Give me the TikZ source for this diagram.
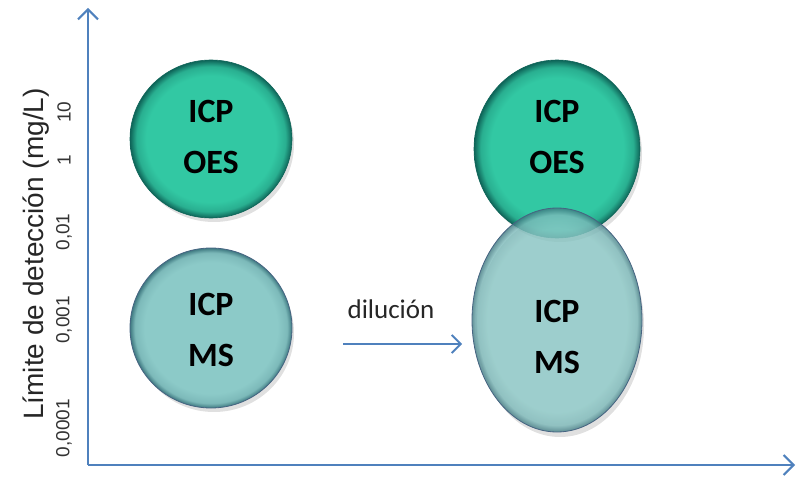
\documentclass[tikz,border=0pt]{standalone}
\usepackage{fontspec}
\setmainfont{Liberation Sans}
\newfontfamily\calib{Carlito}
\usetikzlibrary{arrows.meta,shapes.geometric}
\definecolor{axisblue}{RGB}{79,129,189}
\definecolor{oesmain}{RGB}{50,200,163}
\definecolor{oesdark}{RGB}{14,100,88}
\definecolor{msmain}{RGB}{140,202,200}
\definecolor{msdark}{RGB}{62,120,128}
\definecolor{msline}{RGB}{70,100,130}
\pgfdeclareradialshading{oesshade}{\pgfpoint{0bp}{0bp}}{%
  color(0bp)=(oesmain); color(20bp)=(oesmain); color(23bp)=(oesmain!75!oesdark); color(25bp)=(oesdark); color(50bp)=(oesdark)}
\pgfdeclareradialshading{msshade}{\pgfpoint{0bp}{0bp}}{%
  color(0bp)=(msmain); color(20.5bp)=(msmain); color(23.5bp)=(msmain!80!msdark); color(25bp)=(msdark); color(50bp)=(msdark)}
\tikzset{
  axisline/.style={draw=axisblue, line width=2pt, -{Straight Barb[length=10pt,width=20pt,line width=2pt]}},
  balltext/.style={font=\calib\bfseries\fontsize{34}{51}\selectfont, align=center, text=black},
  tick/.style={font=\fontsize{19}{19}\selectfont, rotate=90, text=black!80},
  shadowball/.style={fill=black, fill opacity=0.12},
}
\begin{document}
\begin{tikzpicture}[x=1pt,y=-1pt]
\useasboundingbox (0,0) rectangle (797,481);
% axes
\coordinate (origin) at (88,465);
\coordinate (ytop) at (88,8);
\coordinate (xend) at (795,465);
\draw[axisline] (origin) -- (ytop);
\draw[axisline] (origin) -- (xend);
% tick labels
\node[tick] (t10) at (64,112) {10};
\node[tick] (t1) at (64,160) {1};
\node[tick] (t001) at (64,232) {0,01};
\node[tick] (t0001) at (64,320) {0,001};
\node[tick] (t00001) at (64,428) {0,0001};
\node[font=\fontsize{28}{28}\selectfont, rotate=90, text=black!85] (ytitle) at (36,254) {Límite de detección (mg/L)};
% shadows
\path[shadowball] (214,144) ellipse [x radius=80, y radius=78];
\path[shadowball] (214,333) ellipse [x radius=80, y radius=79];
\path[shadowball] (560,154) ellipse [x radius=82, y radius=88];
\path[shadowball] (560,326) ellipse [x radius=84, y radius=111];
% left balls
\path[shading=oesshade] (211,139) ellipse [x radius=81, y radius=79];
\draw[oesdark, line width=0.6pt] (211,139) ellipse [x radius=81, y radius=79];
\node[balltext] (lo) at (211,137) {ICP\\OES};
\path[shading=msshade] (211,328) ellipse [x radius=81, y radius=80];
\draw[msline, line width=0.8pt] (211,328) ellipse [x radius=81, y radius=80];
\node[balltext] (lm) at (211,330) {ICP\\MS};
% right balls
\path[shading=oesshade] (557,149) ellipse [x radius=83, y radius=89];
\draw[oesdark, line width=0.6pt] (557,149) ellipse [x radius=83, y radius=89];
\node[balltext] (ro) at (557,137) {ICP\\OES};
\begin{scope}[opacity=0.8]
\path[shading=msshade] (557,320) ellipse [x radius=85, y radius=112];
\end{scope}
\draw[msline, line width=0.8pt] (557,320) ellipse [x radius=85, y radius=112];
\node[balltext] (rm) at (557,337) {ICP\\MS};
% dilution arrow
\node[font=\calib\fontsize{27}{27}\selectfont, text=black!85] (dil) at (391,309) {dilución};
\coordinate (da) at (343,344);
\coordinate (db) at (462,344);
\draw[draw=axisblue, line width=1.8pt, -{Straight Barb[length=9pt,width=18pt,line width=1.8pt]}] (da) -- (db);
\end{tikzpicture}
\end{document}
